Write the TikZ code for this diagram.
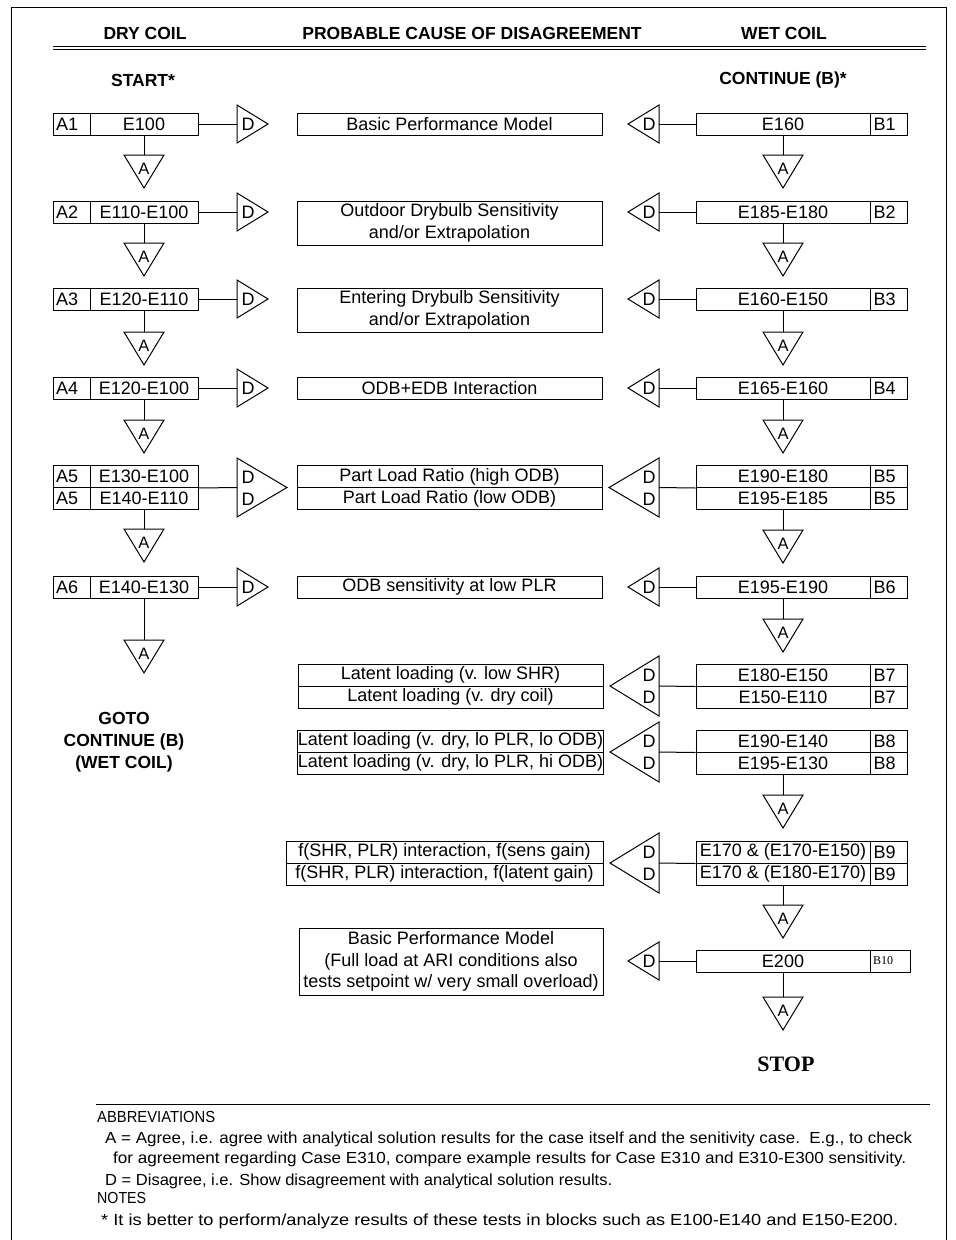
\documentclass[tikz,border=0pt]{standalone}
\usepackage{fontspec}
\usepackage{graphicx}
\setmainfont{Liberation Sans}
\newfontfamily\timesf{Liberation Serif}
\newcommand\bxf{\fontsize{18pt}{21.5pt}\selectfont}
\newcommand\atf{\fontsize{16.5pt}{20pt}\selectfont}
\newcommand\hdf{\fontsize{17.5pt}{22pt}\selectfont\bfseries}
\newcommand\ntf{\fontsize{16pt}{19pt}\selectfont}
\newcommand\fitw[2]{\resizebox{#1pt}{\height}{#2}}
% triangle with vertical side at x=#2 from y=#3 to y=#4, apex at x=#5
\newcommand\dtri[5]{%
  \draw[tri] (#2,#3) -- (#5,{(#3+#4)/2}) -- (#2,#4) -- cycle;
  \coordinate (#1) at (#2,{(#3+#4)/2});}
% inverted "A" triangle, centre x=#2, top y=#3
\newcommand\atri[3]{%
  \draw[tri] ({#2-20},#3) -- ({#2+20},#3) -- (#2,{#3+33}) -- cycle;
  \coordinate (#1) at (#2,#3);
  \node[inner sep=0pt,font=\atf] at (#2,{#3+14}) {A};}
\begin{document}
\begin{tikzpicture}[x=1pt,y=-1pt,
  txt/.style={inner sep=0pt,font=\bxf},
  tri/.style={draw,line width=1pt,line join=miter},
  conn/.style={draw,line width=1pt},
  cell/.style={draw,line width=1pt,inner sep=0pt,minimum height=22pt,font=\bxf},
  lab/.style={cell,text width=31pt,inner xsep=3pt,align=left},
  lcell/.style={cell,minimum width=108pt},
  rcell/.style={cell,minimum width=174pt},
  mid/.style={cell,minimum width=305pt,align=center},
  hd/.style={inner sep=0pt,font=\hdf,align=center},
  nt/.style={inner sep=0pt,font=\ntf,anchor=base west}]
\useasboundingbox (0,0) rectangle (956,1240);
% frame and rules
\draw[line width=1pt] (11,1240) -- (11,7) -- (946,7) -- (946,1240);
\draw[line width=1.5pt] (53,46.5) -- (926,46.5);
\draw[line width=0.6pt] (53,49.5) -- (926,49.5);
\draw[line width=1pt] (96,1104) -- (930,1104);
% headers
\node[hd] (h1) at (145,33) {DRY COIL};
\node[hd] (h2) at (472,33) {PROBABLE CAUSE OF DISAGREEMENT};
\node[hd] (h3) at (784,33) {WET COIL};
\node[hd] (start) at (143,80) {START*};
\node[hd] (cont) at (783,80) {CONTINUE (B)*};
\node[hd] (goto) at (124,742) {GOTO\\CONTINUE (B)\\(WET COIL)};
\node[inner sep=0pt,font=\timesf\fontsize{22pt}{24pt}\selectfont\bfseries] (stop) at (786,1064) {STOP};

% ---------- left column (dry coil) ----------
\node[lab] (a1l) at (71.5,124) {A1};  \node[lcell] (a1m) at (144,124) {E100};
\node[lab] (a2l) at (71.5,212) {A2};  \node[lcell] (a2m) at (144,212) {E110-E100};
\node[lab] (a3l) at (71.5,299) {A3};  \node[lcell] (a3m) at (144,299) {E120-E110};
\node[lab] (a4l) at (71.5,388) {A4};  \node[lcell] (a4m) at (144,388) {E120-E100};
\node[lab] (a5l) at (71.5,476.5) {A5}; \node[lcell] (a5m) at (144,476.5) {E130-E100};
\node[lab] (a5lb) at (71.5,498.5) {A5}; \node[lcell] (a5mb) at (144,498.5) {E140-E110};
\node[lab] (a6l) at (71.5,587) {A6};  \node[lcell] (a6m) at (144,587) {E140-E130};

\dtri{da1}{237}{105}{143}{268}  \node[txt] at (248,124) {D};
\dtri{da2}{237}{193}{231}{268}  \node[txt] at (248,212) {D};
\dtri{da3}{237}{280}{318}{268}  \node[txt] at (248,299) {D};
\dtri{da4}{237}{369}{407}{268}  \node[txt] at (248,388) {D};
\dtri{da5}{237}{458}{517}{287}  \node[txt] at (248,477) {D}; \node[txt] at (248,499) {D};
\dtri{da6}{237}{568}{606}{268}  \node[txt] at (248,587) {D};

\atri{aa1}{144}{155}
\atri{aa2}{144}{243}
\atri{aa3}{144}{332}
\atri{aa4}{144}{420}
\atri{aa5}{144}{529}
\atri{aa6}{144}{640}

\draw[conn] (a1m.east) -- (da1);  \draw[conn] (a1m.south) -- (aa1);
\draw[conn] (a2m.east) -- (da2);  \draw[conn] (a2m.south) -- (aa2);
\draw[conn] (a3m.east) -- (da3);  \draw[conn] (a3m.south) -- (aa3);
\draw[conn] (a4m.east) -- (da4);  \draw[conn] (a4m.south) -- (aa4);
\draw[conn] (a5m.south east) -- (da5);  \draw[conn] (a5mb.south) -- (aa5);
\draw[conn] (a6m.east) -- (da6);  \draw[conn] (a6m.south) -- (aa6);

% ---------- middle column ----------
\node[mid] (c1) at (449.5,124) {Basic Performance Model};
\node[mid,minimum height=44pt] (c2) at (449.5,223) {Outdoor Drybulb Sensitivity\\and/or Extrapolation};
\node[mid,minimum height=44pt] (c3) at (449.5,310) {Entering Drybulb Sensitivity\\and/or Extrapolation};
\node[mid] (c4) at (449.5,388) {ODB+EDB Interaction};
\node[mid] (c5) at (449.5,476.5) {Part Load Ratio (high ODB)};
\node[mid] (c5b) at (449.5,498.5) {Part Load Ratio (low ODB)};
\node[mid] (c6) at (449.5,587) {ODB sensitivity at low PLR};
\node[mid] (c7) at (450.5,675) {Latent loading (v. low SHR)};
\node[mid] (c7b) at (450.5,697) {Latent loading (v. dry coil)};
\node[mid] (c8) at (450.5,741) {Latent loading (v. dry, lo PLR, lo ODB)};
\node[mid] (c8b) at (450.5,763) {Latent loading (v. dry, lo PLR, hi ODB)};
\node[mid,minimum width=317pt] (c9) at (444.5,852) {f(SHR, PLR) interaction, f(sens gain)};
\node[mid,minimum width=317pt] (c9b) at (444.5,874) {f(SHR, PLR) interaction, f(latent gain)};
\node[mid,minimum width=304pt,minimum height=67pt] (c10) at (451,961.5) {Basic Performance Model\\(Full load at ARI conditions also\\tests setpoint w/ very small overload)};

% ---------- right column (wet coil) ----------
\node[rcell] (b1m) at (783,124) {E160};       \node[lab] (b1l) at (889,124) {B1};
\node[rcell] (b2m) at (783,212) {E185-E180};  \node[lab] (b2l) at (889,212) {B2};
\node[rcell] (b3m) at (783,299) {E160-E150};  \node[lab] (b3l) at (889,299) {B3};
\node[rcell] (b4m) at (783,388) {E165-E160};  \node[lab] (b4l) at (889,388) {B4};
\node[rcell] (b5m) at (783,476.5) {E190-E180};  \node[lab] (b5l) at (889,476.5) {B5};
\node[rcell] (b5mb) at (783,498.5) {E195-E185}; \node[lab] (b5lb) at (889,498.5) {B5};
\node[rcell] (b6m) at (783,587) {E195-E190};  \node[lab] (b6l) at (889,587) {B6};
\node[rcell] (b7m) at (783,675) {E180-E150};  \node[lab] (b7l) at (889,675) {B7};
\node[rcell] (b7mb) at (783,697) {E150-E110}; \node[lab] (b7lb) at (889,697) {B7};
\node[rcell] (b8m) at (783,741) {E190-E140};  \node[lab] (b8l) at (889,741) {B8};
\node[rcell] (b8mb) at (783,763) {E195-E130}; \node[lab] (b8lb) at (889,763) {B8};
\node[rcell] (b9m) at (783,852) {E170 \& (E170-E150)};  \node[lab] (b9l) at (889,852) {B9};
\node[rcell] (b9mb) at (783,874) {E170 \& (E180-E170)}; \node[lab] (b9lb) at (889,874) {B9};
\node[rcell] (b10m) at (783,961) {E200};
\node[lab,minimum width=40pt,text width=34pt,font=\timesf\fontsize{12pt}{14pt}\selectfont] (b10l) at (890,961) {B10};

\dtri{db1}{659}{105}{143}{628}  \node[txt] at (649,124) {D};
\dtri{db2}{659}{193}{231}{628}  \node[txt] at (649,212) {D};
\dtri{db3}{659}{280}{318}{628}  \node[txt] at (649,299) {D};
\dtri{db4}{659}{369}{407}{628}  \node[txt] at (649,388) {D};
\dtri{db5}{659}{458}{517}{609}  \node[txt] at (649,477) {D}; \node[txt] at (649,499) {D};
\dtri{db6}{659}{568}{606}{628}  \node[txt] at (649,587) {D};
\dtri{db7}{659}{656}{716}{610}  \node[txt] at (649,675) {D}; \node[txt] at (649,697) {D};
\dtri{db8}{659}{722}{782}{610}  \node[txt] at (649,741) {D}; \node[txt] at (649,763) {D};
\dtri{db9}{659}{833}{893}{610}  \node[txt] at (649,852) {D}; \node[txt] at (649,874) {D};
\dtri{db10}{659}{942}{980}{628} \node[txt] at (649,961) {D};

\atri{ab1}{783}{155}
\atri{ab2}{783}{243}
\atri{ab3}{783}{332}
\atri{ab4}{783}{420}
\atri{ab5}{783}{530}
\atri{ab6}{783}{619}
\atri{ab8}{783}{795}
\atri{ab9}{783}{905}
\atri{ab10}{783}{997}

\draw[conn] (b1m.west) -- (db1);  \draw[conn] (b1m.south) -- (ab1);
\draw[conn] (b2m.west) -- (db2);  \draw[conn] (b2m.south) -- (ab2);
\draw[conn] (b3m.west) -- (db3);  \draw[conn] (b3m.south) -- (ab3);
\draw[conn] (b4m.west) -- (db4);  \draw[conn] (b4m.south) -- (ab4);
\draw[conn] (b5m.south west) -- (db5);  \draw[conn] (b5mb.south) -- (ab5);
\draw[conn] (b6m.west) -- (db6);  \draw[conn] (b6m.south) -- (ab6);
\draw[conn] (b7m.south west) -- (db7);
\draw[conn] (b8m.south west) -- (db8);  \draw[conn] (b8mb.south) -- (ab8);
\draw[conn] (b9m.south west) -- (db9);  \draw[conn] (b9mb.south) -- (ab9);
\draw[conn] (b10m.west) -- (db10); \draw[conn] (b10m.south) -- (ab10);

% ---------- notes ----------
\node[nt] (n1) at (97,1122) {\fitw{118}{ABBREVIATIONS}};
\node[nt] (n2) at (105,1143) {\fitw{807}{A = Agree, i.e. agree with analytical solution results for the case itself and the senitivity case.\ \ E.g., to check}};
\node[nt] (n3) at (113,1163) {\fitw{793}{for agreement regarding Case E310, compare example results for Case E310 and E310-E300 sensitivity.}};
\node[nt] (n4) at (105,1185) {\fitw{507}{D = Disagree, i.e. Show disagreement with analytical solution results.}};
\node[nt] (n5) at (97,1203) {\fitw{49}{NOTES}};
\node[nt] (n6) at (101,1225) {\fitw{797}{* It is better to perform/analyze results of these tests in blocks such as E100-E140 and E150-E200.}};
\end{tikzpicture}
\end{document}
